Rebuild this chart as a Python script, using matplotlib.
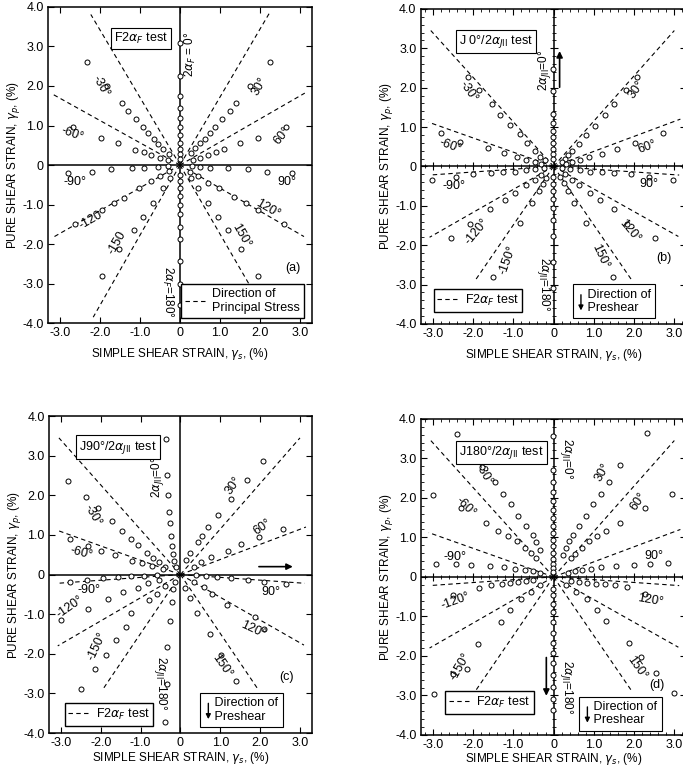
import numpy as np
import matplotlib
matplotlib.use("Agg")
import matplotlib.pyplot as plt
from matplotlib.lines import Line2D

plt.rcParams['font.family'] = ['Liberation Sans', 'DejaVu Sans']
plt.rcParams['mathtext.fontset'] = 'dejavusans'
FS = 8.5

# strain path direction of each series, 2alpha (deg)
angles = [0, 30, 60, 90, 120, 150, 180, -30, -60, -90, -120, -150]

# ---- (a) F2aF test: simple shear strain (x) / pure shear strain (y), %
a_x = [
    [0.0, 0.0, 0.0, 0.0, 0.0, 0.0, 0.0, 0.0, 0.0, 0.0, 0.0],
    [2.26, 1.76, 1.40, 1.25, 1.05, 0.88, 0.75, 0.63, 0.50, 0.38, 0.28],
    [2.65, 1.94, 1.50, 1.11, 0.90, 0.71, 0.51, 0.32],
    [2.80, 2.18, 1.71, 1.21, 0.76, 0.51, 0.29],
    [2.60, 1.94, 1.65, 1.36, 0.98, 0.69, 0.46, 0.26],
    [1.94, 1.53, 1.19, 0.96, 0.71, 0.46, 0.28],
    [0.0, 0.0, 0.0, 0.0, 0.0, 0.0, 0.0, 0.0, 0.0, 0.0, 0.0],
    [-2.33, -1.83, -1.46, -1.29, -1.10, -0.93, -0.81, -0.66, -0.54, -0.42, -0.28],
    [-2.68, -1.98, -1.54, -1.13, -0.91, -0.73, -0.49, -0.30],
    [-2.81, -2.21, -1.73, -1.20, -0.89, -0.55, -0.30],
    [-2.63, -1.96, -1.64, -1.39, -1.02, -0.73, -0.49, -0.27],
    [-1.95, -1.52, -1.16, -0.93, -0.68, -0.43, -0.25],
]
a_y = [
    [3.08, 2.25, 1.75, 1.45, 1.20, 0.95, 0.76, 0.57, 0.40, 0.27, 0.15],
    [2.61, 2.00, 1.56, 1.37, 1.16, 0.96, 0.82, 0.67, 0.55, 0.42, 0.31],
    [0.95, 0.69, 0.55, 0.41, 0.33, 0.26, 0.19, 0.12],
    [-0.21, -0.17, -0.11, -0.08, -0.07, -0.04, -0.03],
    [-1.50, -1.14, -0.97, -0.80, -0.59, -0.45, -0.28, -0.18],
    [-2.81, -2.12, -1.65, -1.31, -0.95, -0.57, -0.32],
    [-3.53, -3.00, -2.43, -1.88, -1.56, -1.25, -1.01, -0.78, -0.57, -0.41, -0.24],
    [2.61, 2.00, 1.56, 1.36, 1.16, 0.97, 0.82, 0.67, 0.54, 0.41, 0.28],
    [0.96, 0.69, 0.55, 0.38, 0.33, 0.26, 0.19, 0.12],
    [-0.21, -0.17, -0.11, -0.08, -0.07, -0.04, -0.03],
    [-1.50, -1.14, -0.97, -0.83, -0.59, -0.40, -0.28, -0.15],
    [-2.81, -2.12, -1.65, -1.31, -0.95, -0.57, -0.34],
]

# ---- (b) J0/2aJII test
b_x = [
    [-0.02, -0.02, -0.02, -0.02, -0.02, -0.02, -0.02, -0.02, -0.02, -0.02],
    [2.07, 1.80, 1.51, 1.27, 1.02, 0.80, 0.62, 0.47, 0.37, 0.29, 0.20],
    [2.73, 2.03, 1.57, 1.20, 0.89, 0.65, 0.46, 0.30],
    [2.96, 2.36, 1.93, 1.49, 1.20, 0.91, 0.66, 0.41, 0.22],
    [2.51, 1.82, 1.49, 1.16, 0.91, 0.64, 0.47, 0.29],
    [1.47, 0.80, 0.50, 0.37, 0.26, 0.17],
    [-0.02, -0.02, -0.02, -0.02, -0.02, -0.02, -0.02, -0.02, -0.02],
    [-2.13, -1.86, -1.53, -1.32, -1.08, -0.84, -0.66, -0.47, -0.33, -0.21],
    [-2.79, -2.32, -1.63, -1.24, -0.91, -0.69, -0.47, -0.30],
    [-3.02, -2.42, -1.99, -1.55, -1.26, -0.97, -0.69, -0.46, -0.25],
    [-2.54, -2.07, -1.57, -1.20, -0.95, -0.69, -0.47, -0.31],
    [-1.51, -0.84, -0.54, -0.36, -0.27, -0.19],
]
b_y = [
    [2.47, 1.92, 1.34, 1.10, 0.90, 0.75, 0.60, 0.45, 0.32, 0.20],
    [2.28, 1.95, 1.58, 1.30, 1.02, 0.79, 0.57, 0.40, 0.30, 0.19, 0.12],
    [0.84, 0.59, 0.44, 0.32, 0.23, 0.16, 0.10, 0.06],
    [-0.34, -0.28, -0.20, -0.17, -0.15, -0.13, -0.09, -0.07, -0.05],
    [-1.83, -1.46, -1.09, -0.85, -0.67, -0.47, -0.34, -0.20],
    [-2.82, -1.43, -0.92, -0.62, -0.42, -0.28],
    [-3.10, -2.44, -1.77, -1.35, -1.05, -0.84, -0.62, -0.44, -0.28],
    [2.26, 1.95, 1.58, 1.30, 1.04, 0.81, 0.60, 0.38, 0.25, 0.15],
    [0.84, 0.61, 0.46, 0.33, 0.23, 0.16, 0.10, 0.06],
    [-0.34, -0.28, -0.20, -0.17, -0.15, -0.13, -0.09, -0.07, -0.05],
    [-1.83, -1.46, -1.09, -0.85, -0.68, -0.47, -0.34, -0.21],
    [-2.82, -1.43, -0.92, -0.62, -0.44, -0.30],
]

# ---- (c) J90/2aJII test
c_x = [
    [-0.37, -0.33, -0.31, -0.29, -0.27, -0.23, -0.21, -0.19, -0.17, -0.12],
    [2.06, 1.67, 1.28, 0.95, 0.68, 0.55, 0.43, 0.25, 0.14],
    [2.57, 1.96, 1.51, 1.20, 0.76, 0.51, 0.33],
    [2.64, 2.10, 1.69, 1.26, 0.92, 0.64, 0.38],
    [2.10, 1.88, 1.18, 0.78, 0.58, 0.35],
    [1.40, 1.03, 0.73, 0.41, 0.25, 0.12],
    [-0.39, -0.35, -0.33, -0.27, -0.22, -0.18, -0.13],
    [-2.83, -2.37, -2.06, -1.73, -1.47, -1.24, -1.06, -0.83, -0.68, -0.54, -0.38],
    [-2.78, -2.31, -2.00, -1.65, -1.21, -0.97, -0.72, -0.45],
    [-2.76, -2.35, -1.94, -1.57, -1.24, -0.91, -0.60],
    [-2.99, -2.33, -1.82, -1.44, -1.06, -0.81, -0.55],
    [-2.49, -2.15, -1.87, -1.61, -1.36, -1.25, -0.78, -0.60, -0.40],
]
c_y = [
    [3.43, 2.51, 2.02, 1.58, 1.29, 0.97, 0.72, 0.52, 0.33, 0.18],
    [2.86, 2.38, 1.92, 1.50, 1.19, 0.97, 0.81, 0.55, 0.37],
    [1.14, 0.96, 0.76, 0.60, 0.44, 0.31, 0.20],
    [-0.23, -0.18, -0.13, -0.09, -0.05, -0.03, -0.02],
    [-1.37, -1.07, -0.78, -0.49, -0.32, -0.20],
    [-2.68, -2.04, -1.50, -0.96, -0.60, -0.34],
    [-3.72, -2.75, -1.83, -1.16, -0.70, -0.36, -0.18],
    [2.36, 1.96, 1.67, 1.36, 1.10, 0.89, 0.75, 0.54, 0.41, 0.31, 0.20],
    [0.89, 0.73, 0.60, 0.49, 0.35, 0.28, 0.22, 0.14],
    [-0.18, -0.13, -0.09, -0.05, -0.03, -0.03, -0.02],
    [-1.14, -0.86, -0.62, -0.45, -0.33, -0.22, -0.14],
    [-2.88, -2.38, -2.03, -1.66, -1.33, -0.97, -0.64, -0.49, -0.30],
]

# ---- (d) J180/2aJII test
d_x = [
    [-0.02, -0.02, -0.02, -0.02, -0.02, -0.02, -0.02, -0.02, -0.02, -0.02, -0.02, -0.02, -0.02, -0.02, -0.02, -0.02],
    [2.32, 1.64, 1.37, 1.17, 0.98, 0.80, 0.62, 0.49, 0.39, 0.31, 0.23],
    [2.95, 2.26, 1.64, 1.31, 1.09, 0.88, 0.70, 0.54, 0.43],
    [2.85, 2.40, 2.01, 1.54, 1.19, 0.92, 0.70, 0.52, 0.35],
    [2.26, 1.82, 1.52, 1.28, 1.05, 0.82, 0.64, 0.44],
    [3.00, 2.54, 2.18, 1.88, 1.31, 1.09, 0.82, 0.56, 0.31],
    [-0.02, -0.02, -0.02, -0.02, -0.02, -0.02, -0.02, -0.02, -0.02, -0.02, -0.02, -0.02, -0.02],
    [-2.41, -1.77, -1.46, -1.26, -1.06, -0.88, -0.69, -0.52, -0.43, -0.33],
    [-3.00, -2.29, -1.69, -1.37, -1.14, -0.92, -0.71, -0.56, -0.44],
    [-2.91, -2.43, -2.05, -1.57, -1.22, -0.96, -0.71, -0.51, -0.33],
    [-2.49, -1.86, -1.55, -1.28, -1.08, -0.88, -0.69, -0.51],
    [-2.98, -2.51, -2.16, -1.88, -1.31, -1.08, -0.82, -0.56, -0.34],
]
d_y = [
    [3.56, 2.70, 2.40, 2.15, 1.92, 1.70, 1.48, 1.28, 1.10, 0.94, 0.77, 0.60, 0.45, 0.33, 0.22, 0.12],
    [3.63, 2.82, 2.39, 2.11, 1.84, 1.54, 1.28, 1.07, 0.90, 0.73, 0.56],
    [2.09, 1.75, 1.37, 1.15, 1.03, 0.90, 0.73, 0.58, 0.47],
    [0.36, 0.32, 0.30, 0.27, 0.24, 0.21, 0.17, 0.15, 0.10],
    [-0.43, -0.26, -0.21, -0.19, -0.17, -0.15, -0.13, -0.10],
    [-2.93, -2.42, -2.03, -1.68, -1.11, -0.85, -0.56, -0.37, -0.20],
    [-0.30, -0.47, -0.68, -0.90, -1.15, -1.41, -1.67, -1.92, -2.18, -2.48, -2.78, -3.08, -3.38],
    [3.62, 2.79, 2.39, 2.11, 1.84, 1.54, 1.28, 1.07, 0.88, 0.68],
    [2.08, 1.74, 1.37, 1.17, 1.03, 0.90, 0.73, 0.60, 0.47],
    [0.32, 0.32, 0.30, 0.27, 0.24, 0.21, 0.17, 0.15, 0.10],
    [-0.45, -0.27, -0.21, -0.17, -0.15, -0.13, -0.11, -0.09],
    [-2.97, -2.45, -2.33, -1.71, -1.13, -0.85, -0.57, -0.38, -0.21],
]

# direction of principal stress in (a): ray end points (from origin)
a_ray_x = [2.25, 3.12, 3.10, 1.73, -2.23, -3.18, -3.14, -2.17]
a_ray_y = [3.87, 1.82, -1.81, -3.02, 3.81, 1.79, -1.81, -3.85]

# F2aF test directions used in (b)-(d): ray end points
f_ray_x = [3.00, 3.15, 3.12, 3.10, 1.95, -3.05, -3.10, -3.08, -3.08, -1.95]
f_ray_y = [3.45, 1.20, -0.22, -1.78, -2.90, 3.45, 1.12, -0.22, -1.80, -2.90]

# angle annotations: text, x, y, rotation
a_labels = [("30°", 1.98, 1.98, 60), ("60°", 2.55, 0.75, 50), ("90°", 2.68, -0.43, 0),
            ("120°", 2.19, -1.12, -30), ("150°", 1.53, -1.80, -60), ("-30°", -1.99, 1.98, -60),
            ("-60°", -2.70, 0.78, -20), ("-90°", -2.63, -0.43, 0), ("-120", -2.23, -1.39, 30),
            ("-150", -1.58, -1.97, 60)]
b_labels = [("30°", 2.07, 1.94, 55), ("60°", 2.32, 0.49, 20), ("90°", 2.36, -0.45, 0),
            ("120°", 1.90, -1.65, -50), ("150°", 1.16, -2.29, -65), ("-30°", -2.11, 1.89, -55),
            ("-60°", -2.57, 0.51, -20), ("-90°", -2.48, -0.50, 0), ("-120°", -1.90, -1.65, 50),
            ("-150°", -1.13, -2.37, 70)]
c_labels = [("30°", 1.32, 2.25, 55), ("60°", 2.06, 1.21, 35), ("90°", 2.27, -0.43, 0),
            ("120°", 1.82, -1.39, -25), ("150°", 1.03, -2.31, -55), ("-30°", -2.19, 1.50, -60),
            ("-60°", -2.48, 0.54, -15), ("-90°", -2.29, -0.40, 0), ("-120°", -2.76, -0.82, 35),
            ("-150°", -2.08, -1.81, 65)]
d_labels = [("30°", 1.21, 2.65, 60), ("60°", 2.11, 1.92, 55), ("90°", 2.48, 0.54, 0),
            ("120°", 2.40, -0.60, -10), ("150°", 2.07, -2.31, -55), ("-30°", -1.73, 2.59, -60),
            ("-60°", -2.18, 1.77, -45), ("-90°", -2.45, 0.51, 0), ("-120°", -2.43, -0.60, 20),
            ("-150°", -2.32, -2.26, 60)]

xticks = [-3, -2, -1, 0, 1, 2, 3]
xtick_labels = ["-3.0", "-2.0", "-1.0", "0", "1.0", "2.0", "3.0"]
yticks = [-4, -3, -2, -1, 0, 1, 2, 3, 4]
ytick_labels = ["-4.0", "-3.0", "-2.0", "-1.0", "0", "1.0", "2.0", "3.0", "4.0"]

BOX = dict(boxstyle="square,pad=0.25", fc="white", ec="black", lw=0.8)
JII = r"2$\alpha_{J\mathrm{II}}$"
DASH = (0, (4, 3))


def setup_axes(ax, xlab_y, centre_ticks=False):
    ax.set_xlim(-3.3, 3.3)
    ax.set_ylim(-4.0, 4.0)
    ax.set_xticks(xticks)
    ax.set_xticklabels(xtick_labels)
    ax.set_yticks(yticks)
    ax.set_yticklabels(ytick_labels)
    ax.tick_params(direction="in", top=True, right=True, length=4, width=0.8,
                   labelsize=FS + 0.5, pad=3)
    for s in ax.spines.values():
        s.set_linewidth(1.1)
    ax.axhline(0, color="black", lw=1.1, zorder=1)
    ax.axvline(0, color="black", lw=1.1, zorder=1)
    if centre_ticks:
        mx = np.arange(-3.2, 3.3, 0.2)
        my = np.arange(-4.0, 4.01, 0.2)
        ax.set_xticks(mx, minor=True)
        ax.set_yticks(my, minor=True)
        ax.tick_params(which="minor", direction="in", top=True, right=True, length=2.5, width=0.6)
        # small tick marks along the centre axes
        ax.plot(mx, np.zeros_like(mx), "|", color="black", ms=3, mew=0.6, zorder=1)
        ax.plot(np.zeros_like(my), my, "_", color="black", ms=3, mew=0.6, zorder=1)
        ax.plot(xticks, np.zeros(len(xticks)), "|", color="black", ms=6, mew=0.8, zorder=1)
        ax.plot(np.zeros(len(yticks)), yticks, "_", color="black", ms=6, mew=0.8, zorder=1)
    ax.set_xlabel(r"SIMPLE SHEAR STRAIN, $\gamma_s$, (%)", fontsize=FS)
    ax.set_ylabel(r"PURE SHEAR STRAIN, $\gamma_p$, (%)", fontsize=FS)
    ax.xaxis.set_label_coords(0.5, xlab_y)
    ax.yaxis.set_label_coords(-0.098, 0.5)


def draw_points(ax, xs, ys):
    for x, y in zip(xs, ys):
        ax.plot(x, y, "o", ms=3.6, mfc="white", mec="black", mew=0.7, ls="none", zorder=4)


def draw_rays(ax, rx, ry):
    for x, y in zip(rx, ry):
        ax.plot([0, x], [0, y], color="black", lw=0.8, ls=DASH, zorder=2)


def draw_labels(ax, labels):
    for txt, x, y, rot in labels:
        ax.text(x, y, txt, rotation=rot, ha="center", va="center", fontsize=FS + 0.5, zorder=5)


def f_legend(ax, anchor):
    ax.legend(handles=[Line2D([0], [0], color="black", lw=0.8, ls=DASH)],
              labels=[r"F2$\alpha_F$ test"], loc="lower left", bbox_to_anchor=anchor,
              bbox_transform=ax.transData, fancybox=False, edgecolor="black",
              framealpha=1, fontsize=FS + 0.5, handlelength=1.7, borderaxespad=0,
              borderpad=0.3, handletextpad=0.5)


def preshear_box(ax, x, y):
    ax.text(x, y, "   Direction of\n   Preshear", ha="left", va="center", fontsize=FS + 0.5,
            linespacing=1.15,
            bbox=dict(boxstyle="square,pad=0.35", fc="white", ec="black", lw=0.8), zorder=6)
    ax.annotate("", xy=(x + 0.1, y - 0.3), xytext=(x + 0.1, y + 0.24),
                arrowprops=dict(arrowstyle="-|>", color="black", lw=1.0, mutation_scale=7),
                zorder=7)


def axis_text(ax, x, y, txt, rot):
    ax.text(x, y, txt, rotation=rot, ha="center", va="center", fontsize=FS, zorder=8)


fig = plt.figure(figsize=(6.83, 7.73), dpi=100)
ax_a = fig.add_axes([0.0703, 0.582, 0.3865, 0.409])
ax_b = fig.add_axes([0.616, 0.581, 0.389, 0.4075])   # runs off the right edge, as in the scan
ax_c = fig.add_axes([0.0717, 0.0517, 0.385, 0.410])
ax_d = fig.add_axes([0.616, 0.0492, 0.389, 0.409])

# (a)
setup_axes(ax_a, -0.072)
draw_rays(ax_a, a_ray_x, a_ray_y)
for xs, ys in zip(a_x, a_y):
    draw_points(ax_a, xs, ys)
draw_labels(ax_a, a_labels)
ax_a.text(-0.97, 3.2, r"F2$\alpha_F$ test", ha="center", va="center", fontsize=FS + 0.5, bbox=BOX)
axis_text(ax_a, 0.27, 2.8, r"2$\alpha_F$ = 0°", 90)
axis_text(ax_a, -0.31, -3.2, r"2$\alpha_F$=180°", -90)
ax_a.text(2.82, -2.6, "(a)", ha="center", va="center", fontsize=FS + 0.5)
ax_a.legend(handles=[Line2D([0], [0], color="black", lw=0.8, ls=DASH)],
            labels=["Direction of\nPrincipal Stress"], loc="lower right",
            bbox_to_anchor=(3.1, -3.86), bbox_transform=ax_a.transData, fancybox=False,
            edgecolor="black", framealpha=1, fontsize=FS + 0.5, handlelength=1.7,
            borderaxespad=0, borderpad=0.3, handletextpad=0.5, labelspacing=0.2)

# (b)
setup_axes(ax_b, -0.072, centre_ticks=True)
draw_rays(ax_b, f_ray_x, f_ray_y)
for xs, ys in zip(b_x, b_y):
    draw_points(ax_b, xs, ys)
draw_labels(ax_b, b_labels)
ax_b.text(-1.43, 3.17, r"J 0°/" + JII + " test", ha="center", va="center", fontsize=FS + 0.5, bbox=BOX)
axis_text(ax_b, -0.22, 2.45, JII + "=0°", 90)
axis_text(ax_b, -0.25, -3.0, JII + "=180°", -90)
ax_b.annotate("", xy=(0.15, 3.0), xytext=(0.15, 1.94),
              arrowprops=dict(arrowstyle="-|>", color="black", lw=1.2, mutation_scale=9))
ax_b.text(2.73, -2.33, "(b)", ha="center", va="center", fontsize=FS + 0.5)
f_legend(ax_b, (-2.98, -3.69))
preshear_box(ax_b, 0.58, -3.43)

# (c)
setup_axes(ax_c, -0.052)
draw_rays(ax_c, f_ray_x, f_ray_y)
for xs, ys in zip(c_x, c_y):
    draw_points(ax_c, xs, ys)
draw_labels(ax_c, c_labels)
ax_c.text(-1.57, 3.22, r"J90°/" + JII + " test", ha="center", va="center", fontsize=FS + 0.5, bbox=BOX)
axis_text(ax_c, -0.58, 2.46, JII + "=0°", 90)
axis_text(ax_c, -0.5, -2.73, JII + "=180°", -90)
ax_c.annotate("", xy=(2.89, 0.2), xytext=(1.9, 0.2),
              arrowprops=dict(arrowstyle="-|>", color="black", lw=1.2, mutation_scale=9))
ax_c.text(2.66, -2.58, "(c)", ha="center", va="center", fontsize=FS + 0.5)
f_legend(ax_c, (-2.91, -3.81))
preshear_box(ax_c, 0.6, -3.42)

# (d)
setup_axes(ax_d, -0.052, centre_ticks=True)
draw_rays(ax_d, f_ray_x, f_ray_y)
for xs, ys in zip(d_x, d_y):
    draw_points(ax_d, xs, ys)
draw_labels(ax_d, d_labels)
ax_d.text(-1.3, 3.14, r"J180°/" + JII + " test", ha="center", va="center", fontsize=FS + 0.5, bbox=BOX)
axis_text(ax_d, 0.31, 2.99, JII + "=0°", -90)
axis_text(ax_d, 0.31, -2.78, JII + "=180°", -90)
ax_d.annotate("", xy=(-0.18, -3.08), xytext=(-0.18, -1.97),
              arrowprops=dict(arrowstyle="-|>", color="black", lw=1.2, mutation_scale=9))
ax_d.text(2.56, -2.74, "(d)", ha="center", va="center", fontsize=FS + 0.5)
f_legend(ax_d, (-2.7, -3.46))
preshear_box(ax_d, 0.74, -3.46)

fig.savefig("out.png", dpi=100)
